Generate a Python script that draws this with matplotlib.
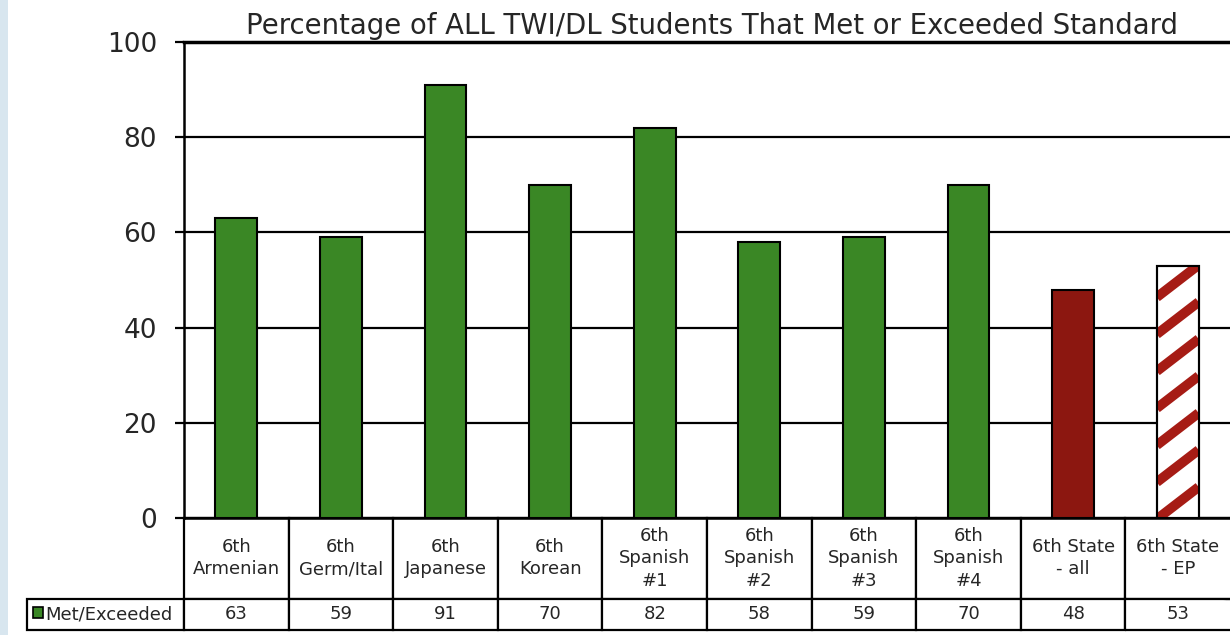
'''
    Bar chart with data table:
        Percentage of ALL TWI/DL students that met or exceeded standard
'''

# --
# Dependancies
import matplotlib
matplotlib.use('Agg')
import matplotlib.pyplot as plt
from matplotlib.patches import Rectangle
from matplotlib.lines import Line2D
from matplotlib.transforms import IdentityTransform
import numpy as np

# --
# Data
categories = ['6th\nArmenian', '6th\nGerm/Ital', '6th\nJapanese', '6th\nKorean',
              '6th\nSpanish\n#1', '6th\nSpanish\n#2', '6th\nSpanish\n#3',
              '6th\nSpanish\n#4', '6th State\n- all', '6th State\n- EP']
met_exceeded = [63, 59, 91, 70, 82, 58, 59, 70, 48, 53]
series_label = 'Met/Exceeded'
title = 'Percentage of ALL TWI/DL Students That Met or Exceeded Standard'
yticks = [0, 20, 40, 60, 80, 100]

green = '#3a8725'
darkred = '#8c1710'
stripe_red = '#a61c15'
txt = '#262626'

# --
# Figure and axes placed in pixel terms (1230 x 635)
W, H = 1230, 635
fig = plt.figure(figsize=(W / 100, H / 100), dpi=100)
fig.patch.set_facecolor('white')
fig.patches.append(Rectangle((0, 0), 8 / W, 1, transform=fig.transFigure,
                             facecolor='#d8e6ef', edgecolor='none'))

ax_l, ax_r, ax_t, ax_b = 184, 1230, 42, 518
ax = fig.add_axes([ax_l / W, (H - ax_b) / H, (ax_r - ax_l) / W, (ax_b - ax_t) / H])
ax_w, ax_h = ax_r - ax_l, ax_b - ax_t

x = np.arange(len(categories)) + 0.5
colors = [green] * 8 + [darkred, 'white']
bars = ax.bar(x, met_exceeded, width=0.4, color=colors, edgecolor='black',
              linewidth=1.5, zorder=3)

ax.set_xlim(0, len(categories))
ax.set_ylim(0, 100)
ax.set_yticks(yticks)
ax.set_xticks([])
ax.yaxis.grid(True, color='black', linewidth=1.6)
ax.set_axisbelow(True)
ax.tick_params(axis='y', direction='out', length=6.5, width=1.6, pad=13,
               labelsize=19, labelcolor=txt)
for s in ['left', 'bottom', 'top']:
    ax.spines[s].set_linewidth(1.8)
ax.spines['top'].set_linewidth(2.5)
ax.spines['right'].set_visible(False)

# -- diagonal stripes on the last bar
p = bars[-1]
(x0, y0), (x1, y1) = ax.transData.transform(
    [(p.get_x(), 0), (p.get_x() + p.get_width(), p.get_height())])
bw = x1 - x0
gap, slope = 37, 0.77
for yy in np.arange(y0 - bw * slope - 6, y1 + gap, gap):
    ln = Line2D([x0, x1], [yy, yy + slope * bw], transform=IdentityTransform(),
                color=stripe_red, linewidth=7, solid_capstyle='butt', zorder=3.5)
    ax.add_line(ln)
    # add_line resets the clip, so set it afterwards
    ln.set_clip_path(p)
ax.bar(x[-1], met_exceeded[-1], width=0.4, fill=False, edgecolor='black',
       linewidth=1.5, zorder=4)

# --
# Title
fig.text(712 / W, (H - 34) / H, title, ha='center', va='baseline',
         fontsize=19.8, color=txt)

# --
# Data table under the axes
leg_l, tab_b = 27, 630
cell_text = [[''] + categories,
             [series_label] + [str(v) for v in met_exceeded]]
col_w = [ax_l - leg_l] + [ax_w / len(categories)] * len(categories)
tab = ax.table(cellText=cell_text, cellLoc='center', colWidths=col_w,
               bbox=[(leg_l - ax_l) / ax_w, (ax_b - tab_b) / ax_h,
                     (ax_r - leg_l) / ax_w, (tab_b - ax_b) / ax_h])
tab.auto_set_font_size(False)
tab.set_fontsize(13)
for (r, c), cell in tab.get_celld().items():
    cell.set_height(80 if r == 0 else 31)
    cell.set_linewidth(1.6)
    cell.get_text().set_color(txt)
    cell.get_text().set_linespacing(1.3)
    if r == 0 and c == 0:
        cell.visible_edges = ''
    if c == len(categories):
        cell.visible_edges = 'BLT'
leg_cell = tab[1, 0]
leg_cell.PAD = 0.115
leg_cell.get_text().set_ha('left')

# legend swatch
ax.add_patch(Rectangle(((33 - ax_l) / ax_w, (ax_b - 618) / ax_h),
                       10 / ax_w, 11 / ax_h, transform=ax.transAxes,
                       facecolor=green, edgecolor='black', linewidth=1.2,
                       clip_on=False, zorder=5))

plt.savefig('out.png', dpi=100, facecolor='white')
plt.close('all')
